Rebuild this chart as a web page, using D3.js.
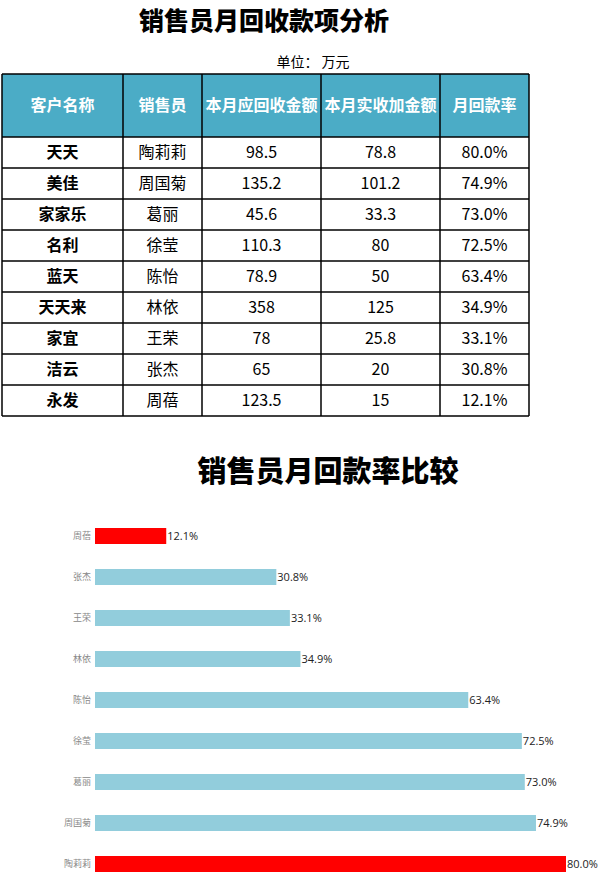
<!DOCTYPE html>
<html>
<head>
<meta charset="utf-8">
<script src="https://cdn.jsdelivr.net/npm/d3@7"></script>
<style>
  body { margin: 0; background: #fff; }
  svg { display: block; font-family: "Noto Sans CJK SC", "Noto Sans", sans-serif; }
</style>
</head>
<body>
<svg id="chart" width="600" height="873"></svg>
<script>
// table data
const headers = ['客户名称', '销售员', '本月应回收金额', '本月实收加金额', '月回款率'];
const customers = ['天天', '美佳', '家家乐', '名利', '蓝天', '天天来', '家宜', '洁云', '永发'];
const salespeople = ['陶莉莉', '周国菊', '葛丽', '徐莹', '陈怡', '林依', '王荣', '张杰', '周蓓'];
const dueAmounts = ['98.5', '135.2', '45.6', '110.3', '78.9', '358', '78', '65', '123.5'];
const receivedAmounts = ['78.8', '101.2', '33.3', '80', '50', '125', '25.8', '20', '15'];
const rates = [0.800, 0.749, 0.730, 0.725, 0.634, 0.349, 0.331, 0.308, 0.121];

const svg = d3.select('#chart');
const pct = d3.format('.1%');

// ---- title ----
svg.append('text')
    .attr('x', 264).attr('y', 30)
    .attr('text-anchor', 'middle')
    .attr('font-size', 25).attr('font-weight', 900)
    .text('销售员月回收款项分析');

svg.append('text')
    .attr('x', 313).attr('y', 67)
    .attr('text-anchor', 'middle')
    .attr('font-size', 14)
    .text('单位：  万元');

// ---- table ----
const colX = [2, 123, 202, 321, 440, 529];
const headTop = 74, headBottom = 137, rowH = 31;
const rows = customers.map((c, i) => [c, salespeople[i], dueAmounts[i], receivedAmounts[i], pct(rates[i])]);
const tableBottom = headBottom + rows.length * rowH;

const table = svg.append('g');

table.append('rect')
    .attr('x', colX[0]).attr('y', headTop)
    .attr('width', colX[5] - colX[0]).attr('height', headBottom - headTop)
    .attr('fill', '#4BACC6');

headers.forEach((h, j) => {
    table.append('text')
        .attr('x', (colX[j] + colX[j + 1]) / 2)
        .attr('y', (headTop + headBottom) / 2)
        .attr('dy', '0.35em')
        .attr('text-anchor', 'middle')
        .attr('fill', '#fff')
        .attr('font-size', 16).attr('font-weight', 'bold')
        .text(h);
});

rows.forEach((r, i) => {
    const cy = headBottom + i * rowH + rowH / 2;
    r.forEach((v, j) => {
        table.append('text')
            .attr('x', (colX[j] + colX[j + 1]) / 2)
            .attr('y', cy)
            .attr('dy', '0.36em')
            .attr('text-anchor', 'middle')
            .attr('font-size', 16)
            .attr('font-weight', j === 0 ? 'bold' : 'normal')
            .attr('fill', '#000')
            .text(v);
    });
});

// grid lines
const hLines = [headTop, headBottom].concat(rows.map((r, i) => headBottom + (i + 1) * rowH));
table.selectAll('line.h').data(hLines).enter().append('line')
    .attr('x1', colX[0]).attr('x2', colX[5])
    .attr('y1', d => d).attr('y2', d => d)
    .attr('stroke', '#000').attr('stroke-width', 1.5);
table.selectAll('line.v').data(colX).enter().append('line')
    .attr('x1', d => d).attr('x2', d => d)
    .attr('y1', headTop).attr('y2', tableBottom)
    .attr('stroke', '#000').attr('stroke-width', 1.5);

// ---- bar chart ----
svg.append('text')
    .attr('x', 328).attr('y', 482)
    .attr('text-anchor', 'middle')
    .attr('font-size', 29).attr('font-weight', 900)
    .text('销售员月回款率比较');

const barData = salespeople.map((s, i) => ({ name: s, rate: rates[i] }))
    .sort((a, b) => a.rate - b.rate);
const minRate = d3.min(rates), maxRate = d3.max(rates);

const x = d3.scaleLinear().domain([0, 0.8]).range([95, 566]);
const y = d3.scaleBand()
    .domain(barData.map(d => d.name))
    .range([515.5, 884.5])
    .paddingInner(0.61)
    .paddingOuter(0.305);

svg.append('g')
    .attr('transform', 'translate(93,0)')
    .call(d3.axisLeft(y).tickSize(0).tickPadding(2))
    .call(g => g.select('.domain').remove())
    .call(g => g.selectAll('text')
        .attr('fill', '#888')
        .attr('font-size', 9)
        .attr('font-family', '"Noto Sans CJK SC", sans-serif'));

svg.selectAll('rect.bar')
    .data(barData)
    .enter().append('rect')
    .attr('class', 'bar')
    .attr('x', x(0))
    .attr('y', d => y(d.name))
    .attr('width', d => x(d.rate) - x(0))
    .attr('height', y.bandwidth())
    .attr('fill', d => (d.rate === minRate || d.rate === maxRate) ? '#FF0000' : '#92CDDC');

svg.selectAll('text.val')
    .data(barData)
    .enter().append('text')
    .attr('class', 'val')
    .attr('x', d => x(d.rate) + 1)
    .attr('y', d => y(d.name) + y.bandwidth() / 2)
    .attr('dy', '0.35em')
    .attr('font-size', 11)
    .attr('fill', '#222')
    .attr('font-family', '"Open Sans", "Noto Sans", sans-serif')
    .text(d => pct(d.rate));
</script>
</body>
</html>
